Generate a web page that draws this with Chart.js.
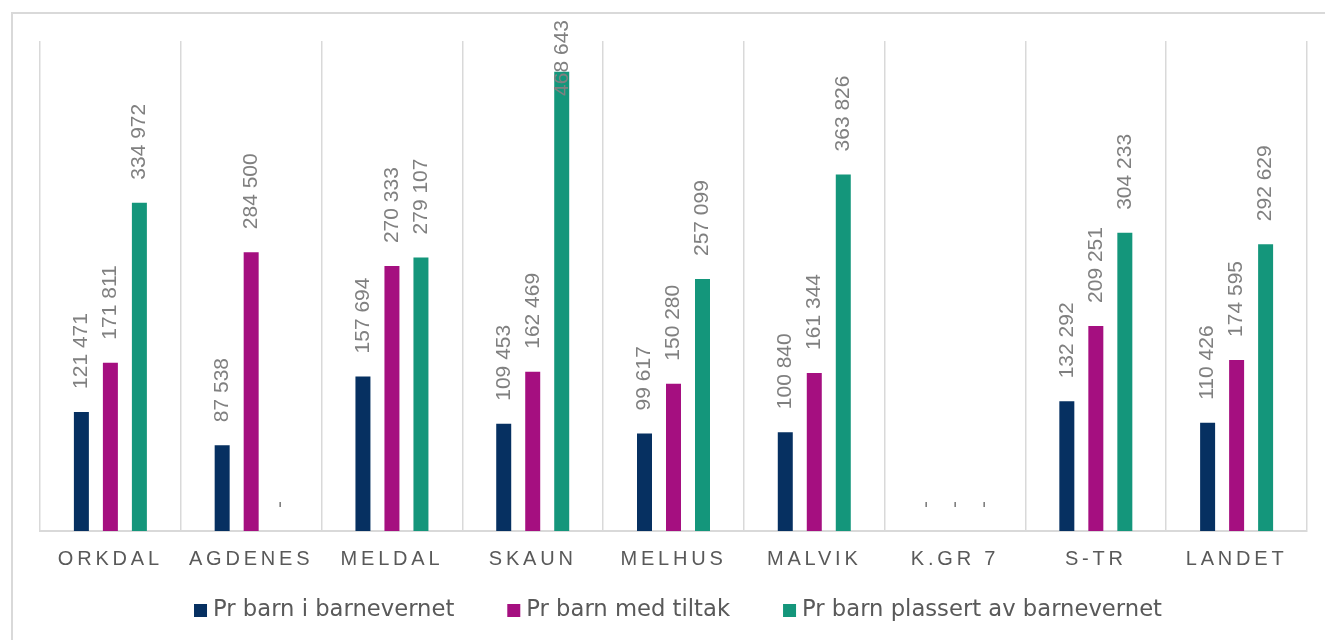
<!DOCTYPE html>
<html><head><meta charset="utf-8">
<script src="https://cdn.jsdelivr.net/npm/chart.js@4/dist/chart.umd.min.js"></script>
<style>
html,body{margin:0;padding:0;background:#fff;overflow:hidden;width:1325px;height:640px;}
#frame{position:absolute;left:11px;top:12px;width:1400px;height:700px;border:2px solid #d9d9d9;box-sizing:border-box;}
#wrap{position:absolute;left:0;top:0;width:1325px;height:640px;}
</style></head><body>
<div id="frame"></div>
<div id="wrap"><canvas id="c" width="1325" height="640"></canvas></div>
<script>
const categories = ['ORKDAL','AGDENES','MELDAL','SKAUN','MELHUS','MALVIK','K.GR 7','S-TR','LANDET'];
const seriesNames = ['Pr barn i barnevernet','Pr barn med tiltak','Pr barn plassert av barnevernet'];
const prBarnIBarnevernet = [121471, 87538, 157694, 109453, 99617, 100840, 0, 132292, 110426];
const prBarnMedTiltak   = [171811, 284500, 270333, 162469, 150280, 161344, 0, 209251, 174595];
const prBarnPlassert    = [334972, 0, 279107, 468643, 257099, 363826, 0, 304233, 292629];
const seriesColors = ['#063061','#A50F80','#14967B'];
const yMin = 0, yMax = 500000;

function fmt(v){ return v === 0 ? '-' : String(v).replace(/\B(?=(\d{3})+(?!\d))/g,' '); }

const labelPlugin = {
  id:'barLabels',
  beforeDraw(chart){ chart.ctx.letterSpacing = '0px'; },
  afterDatasetsDraw(chart){
    const ctx = chart.ctx;
    ctx.save();
    ctx.letterSpacing = '0px';
    ctx.font = '21px "Liberation Sans"';
    ctx.fillStyle = '#808080';
    ctx.textAlign = 'left';
    ctx.textBaseline = 'middle';
    chart.data.datasets.forEach((ds,i)=>{
      const meta = chart.getDatasetMeta(i);
      meta.data.forEach((bar,j)=>{
        const txt = fmt(ds.data[j]);
        const w = ctx.measureText(txt).width;
        let start = bar.y - 23;
        if (start < 20 + w) start = 20 + w;
        ctx.save();
        ctx.translate(bar.x, start);
        ctx.rotate(-Math.PI/2);
        ctx.fillText(txt, 0, 0);
        ctx.restore();
      });
    });
    ctx.restore();
    ctx.letterSpacing = '3.8px';
  },
  afterDraw(chart){
    const ctx = chart.ctx;
    ctx.save();
    ctx.letterSpacing = '0px';
    ctx.font = '22.7px "DejaVu Sans"';
    ctx.textBaseline = 'middle';
    ctx.textAlign = 'left';
    const box = 13, gapText = 6, gapItem = 53;
    const items = chart.data.datasets.map(d=>({t:d.label, c:d.backgroundColor, w:ctx.measureText(d.label).width}));
    let total = 0;
    items.forEach((it,k)=>{ total += box + gapText + it.w + (k<items.length-1?gapItem:0); });
    const cx = 678;
    let x = cx - total/2;
    const yc = 610.5;
    items.forEach(it=>{
      ctx.fillStyle = it.c;
      ctx.fillRect(x, yc - box/2, box, box);
      ctx.fillStyle = '#595959';
      ctx.fillText(it.t, x + box + gapText, yc);
      x += box + gapText + it.w + gapItem;
    });
    ctx.restore();
    ctx.letterSpacing = '0px';
  }
};

new Chart(document.getElementById('c'), {
  type:'bar',
  data:{
    labels: categories,
    datasets:[
      {label: seriesNames[0], data: prBarnIBarnevernet, backgroundColor: seriesColors[0]},
      {label: seriesNames[1], data: prBarnMedTiltak, backgroundColor: seriesColors[1]},
      {label: seriesNames[2], data: prBarnPlassert, backgroundColor: seriesColors[2]}
    ]
  },
  options:{
    responsive:false,
    animation:false,
    devicePixelRatio:1,
    categoryPercentage:0.618,
    barPercentage:0.517,
    layout:{padding:{left:40, right:18, top:41, bottom:53}},
    plugins:{legend:{display:false}, tooltip:{enabled:false}},
    scales:{
      x:{
        grid:{color:'#d9d9d9', lineWidth:1.5, drawTicks:false, offset:true},
        border:{color:'#d9d9d9', width:2},
        ticks:{font:{family:'Liberation Sans', size:20}, color:'#595959', padding:16, z:1, maxRotation:0, autoSkip:false}
      },
      y:{display:false, min:yMin, max:yMax}
    }
  },
  plugins:[labelPlugin]
});
</script>
</body></html>
